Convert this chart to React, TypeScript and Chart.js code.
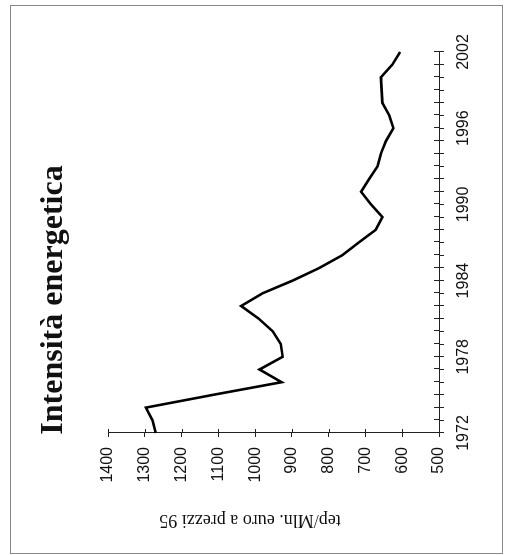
import { useEffect, useRef } from 'react';
import { Chart, registerables } from 'chart.js';

Chart.register(...registerables);

// ---- data ----
const years: string[] = [
  '1972', '1973', '1974', '1975', '1976', '1977', '1978', '1979', '1980', '1981',
  '1982', '1983', '1984', '1985', '1986', '1987', '1988', '1989', '1990', '1991',
  '1992', '1993', '1994', '1995', '1996', '1997', '1998', '1999', '2000', '2001', '2002',
];
const intensity: number[] = [
  1270, 1279, 1297, 1115, 928, 988, 925, 930, 952, 990,
  1038, 980, 898, 825, 763, 718, 672, 654, 685, 712,
  690, 667, 658, 644, 624, 635, 654, 656, 658, 627, 606,
];
const labelledYears: string[] = ['1972', '1978', '1984', '1990', '1996', '2002'];
const valueMin = 500;
const valueMax = 1400;
const valueStep = 100;

const chartTitle = 'Intensità energetica';
const valueAxisTitle = 'tep/Mln. euro a prezzi 95';

// chart is drawn upright, then the whole sheet is turned 90° counter-clockwise
const SHEET_W = 555;
const SHEET_H = 505;

const crossTicks = {
  id: 'crossTicks',
  afterDraw(chart: any) {
    const ctx = chart.ctx;
    const x = chart.scales.x;
    const y = chart.scales.y;
    ctx.save();
    ctx.strokeStyle = '#222';
    ctx.lineWidth = 1;
    ctx.beginPath();
    x.ticks.forEach((_t: any, i: number) => {
      const px = Math.round(x.getPixelForTick(i)) + 0.5;
      ctx.moveTo(px, x.top);
      ctx.lineTo(px, x.top - 5);
    });
    y.ticks.forEach((_t: any, i: number) => {
      const py = Math.round(y.getPixelForTick(i)) + 0.5;
      ctx.moveTo(y.right, py);
      ctx.lineTo(y.right + 4, py);
    });
    ctx.stroke();
    ctx.restore();
  },
};

const titles = {
  id: 'sheetTitles',
  afterDraw(chart: any) {
    const ctx = chart.ctx;
    ctx.save();
    ctx.fillStyle = '#111';
    ctx.textAlign = 'center';
    ctx.textBaseline = 'middle';
    ctx.font = 'bold 32px "Liberation Serif", "Times New Roman", serif';
    ctx.fillText(chartTitle, 255, 54);
    ctx.translate(35, 250);
    ctx.rotate(-Math.PI / 2);
    ctx.font = '18px "Liberation Serif", "Times New Roman", serif';
    ctx.fillText(valueAxisTitle, 0, 0);
    ctx.restore();
  },
};

export default function App() {
  const canvasRef = useRef<HTMLCanvasElement | null>(null);

  useEffect(() => {
    const canvas = canvasRef.current;
    if (!canvas) return;
    const tickFont = { family: '"Liberation Sans", Arial, sans-serif', size: 16 };
    const chart = new Chart(canvas, {
      type: 'line',
      data: {
        labels: years,
        datasets: [
          {
            data: intensity,
            borderColor: '#000',
            borderWidth: 2.6,
            pointRadius: 0,
            tension: 0,
            fill: false,
          },
        ],
      },
      options: {
        responsive: false,
        animation: false,
        devicePixelRatio: 1,
        layout: { padding: { left: 0, right: 52, top: 108, bottom: 0 } },
        plugins: {
          legend: { display: false },
          tooltip: { enabled: false },
          title: { display: false },
        },
        scales: {
          x: {
            type: 'category',
            offset: false,
            grid: { display: true, drawOnChartArea: false, drawTicks: true, tickLength: 5, color: '#222', lineWidth: 1 },
            border: { display: true, color: '#222', width: 1 },
            ticks: {
              autoSkip: false,
              minRotation: 0,
              maxRotation: 0,
              padding: 10,
              color: '#111',
              font: tickFont,
              callback: (_v: any, i: number) => (labelledYears.includes(years[i]) ? years[i] : ''),
            },
            afterFit: (s: any) => {
              s.height = 66;
            },
          },
          y: {
            type: 'linear',
            min: valueMin,
            max: valueMax,
            grid: { display: true, drawOnChartArea: false, drawTicks: true, tickLength: 4, color: '#222', lineWidth: 1 },
            border: { display: true, color: '#222', width: 1 },
            ticks: {
              stepSize: valueStep,
              padding: 10,
              color: '#111',
              font: tickFont,
              callback: (v: any) => String(v),
            },
            afterFit: (s: any) => {
              s.width = 122;
            },
          },
        },
      },
      plugins: [crossTicks, titles],
    });
    return () => chart.destroy();
  }, []);

  return (
    <div style={{ position: 'fixed', left: 0, top: 0, width: 505, height: 555, background: '#fff', overflow: 'hidden' }}>
      <div
        style={{
          position: 'absolute',
          left: 0,
          top: 0,
          width: SHEET_W,
          height: SHEET_H,
          transformOrigin: '0 0',
          transform: `translate(0px, ${SHEET_W}px) rotate(-90deg)`,
        }}
      >
        <canvas ref={canvasRef} width={SHEET_W} height={SHEET_H} style={{ display: 'block' }} />
      </div>
      <div
        style={{
          position: 'absolute',
          left: 10,
          top: 5,
          width: 491,
          height: 547,
          border: '1px solid #888',
          pointerEvents: 'none',
        }}
      />
    </div>
  );
}
